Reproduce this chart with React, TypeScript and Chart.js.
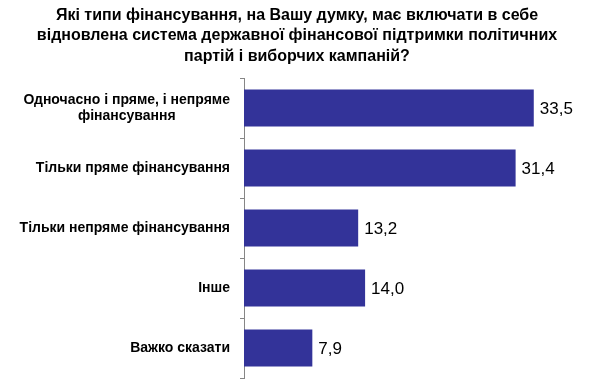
import React, { useEffect, useRef } from "react";
import { Chart, registerables } from "chart.js";

Chart.register(...registerables);

const titleLines: string[] = [
  "Які типи фінансування, на Вашу думку, має включати в себе",
  "відновлена система державної фінансової підтримки політичних",
  "партій і виборчих кампаній?",
];

const categories: string[][] = [
  ["Одночасно і пряме, і непряме", "фінансування"],
  ["Тільки пряме фінансування"],
  ["Тільки непряме фінансування"],
  ["Інше"],
  ["Важко сказати"],
];

const values: number[] = [33.5, 31.4, 13.2, 14.0, 7.9];

const BAR_COLOR = "#333399";
const AXIS_COLOR = "#868686";
const FONT = "'Liberation Sans', Arial, sans-serif";

const fmt = (v: number) => v.toFixed(1).replace(".", ",");

const overlayPlugin = {
  id: "overlay",
  afterDraw(chart: any) {
    const ctx = chart.ctx;
    const yScale = chart.scales.y;
    const meta = chart.getDatasetMeta(0);
    ctx.save();

    // Title
    ctx.fillStyle = "#000000";
    ctx.font = `bold 16px ${FONT}`;
    ctx.textAlign = "center";
    ctx.textBaseline = "alphabetic";
    const titleBaselines = [19.5, 40, 60.5];
    titleLines.forEach((line, i) => {
      ctx.fillText(line, 297, titleBaselines[i]);
    });

    // Category labels
    ctx.font = `bold 14px ${FONT}`;
    ctx.textBaseline = "middle";
    const rightEdge = yScale.right - 14;
    const lineH = 16;
    categories.forEach((lines, i) => {
      const cy = yScale.getPixelForValue(i);
      let w = 0;
      lines.forEach((l) => {
        w = Math.max(w, ctx.measureText(l).width);
      });
      const cx = rightEdge - w / 2;
      const startY = cy - ((lines.length - 1) * lineH) / 2;
      ctx.textAlign = "center";
      lines.forEach((l, j) => {
        ctx.fillText(l, cx, startY + j * lineH);
      });
    });

    // Value labels
    ctx.font = `17px ${FONT}`;
    ctx.textAlign = "left";
    ctx.textBaseline = "middle";
    meta.data.forEach((bar: any, i: number) => {
      ctx.fillText(fmt(values[i]), bar.x + 6, bar.y + 1);
    });

    ctx.restore();
  },
};

export default function App() {
  const canvasRef = useRef<HTMLCanvasElement | null>(null);

  useEffect(() => {
    if (!canvasRef.current) return;
    const chart = new Chart(canvasRef.current, {
      type: "bar",
      data: {
        labels: categories.map((c) => c.join(" ")),
        datasets: [
          {
            data: values,
            backgroundColor: BAR_COLOR,
            borderWidth: 0,
            categoryPercentage: 1,
            barPercentage: 0.62,
          },
        ],
      },
      options: {
        indexAxis: "y",
        animation: false,
        responsive: false,
        maintainAspectRatio: false,
        layout: { padding: { top: 78, right: 2, bottom: 12, left: 0 } },
        plugins: {
          legend: { display: false },
          title: { display: false },
          tooltip: { enabled: false },
        },
        scales: {
          x: {
            display: false,
            min: 0,
            max: 40,
          },
          y: {
            afterFit: (s: any) => {
              s.width = 244;
            },
            ticks: { display: false },
            grid: {
              display: true,
              drawOnChartArea: false,
              drawTicks: true,
              tickLength: 4,
              color: AXIS_COLOR,
              offset: true,
            },
            border: { display: true, color: AXIS_COLOR, width: 1 },
          },
        },
      },
      plugins: [overlayPlugin],
    });
    return () => chart.destroy();
  }, []);

  return (
    <div style={{ position: "absolute", left: 0, top: 0, width: 592, height: 390, background: "#ffffff" }}>
      <canvas ref={canvasRef} width={592} height={390} style={{ width: 592, height: 390 }} />
    </div>
  );
}
